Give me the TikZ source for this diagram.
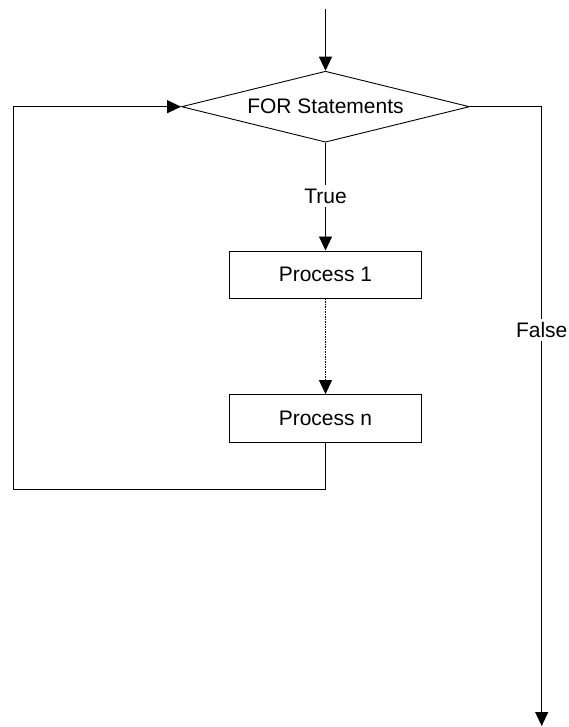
\documentclass[tikz,border=0pt]{standalone}
\usepackage{fontspec}
\setmainfont{Liberation Sans}
\usetikzlibrary{shapes.geometric,arrows.meta}
\begin{document}
\begin{tikzpicture}[x=1pt,y=-1pt,line width=0.9pt,>={Triangle[length=14pt,width=13pt]},
	font=\fontsize{21}{25}\selectfont,
	decision/.style={draw,diamond,aspect=4,inner sep=0pt,minimum width=288pt,minimum height=71pt},
	process/.style={draw,rectangle,inner sep=0pt,minimum width=192pt,minimum height=47.5pt},
	lbl/.style={fill=white,inner sep=3pt}]
	\useasboundingbox (0,0) rectangle (568,727);
	\coordinate (in) at (325.5,9);
	\node[decision] (for) at (325.5,106.7) {FOR Statements};
	\node[lbl] (true) at (325.5,196) {True};
	\node[process] (p1) at (325.5,274.7) {Process 1};
	\node[process] (pn) at (325.5,418.3) {Process n};
	\node[lbl] (false) at (541.7,330) {False};
	\coordinate (loop) at (13.3,489.3);
	\coordinate (out) at (541.7,726);
	\draw[->] (in) -- (for.north);
	\draw (for.south) -- (true);
	\draw[->] (true) -- (p1.north);
	\draw[->,dash pattern=on 1.5pt off 1pt] (p1.south) -- (pn.north);
	\draw[->] (pn.south) |- (loop) |- (for.west);
	\draw (for.east) -| (false);
	\draw[->] (false) -- (out);
\end{tikzpicture}
\end{document}
